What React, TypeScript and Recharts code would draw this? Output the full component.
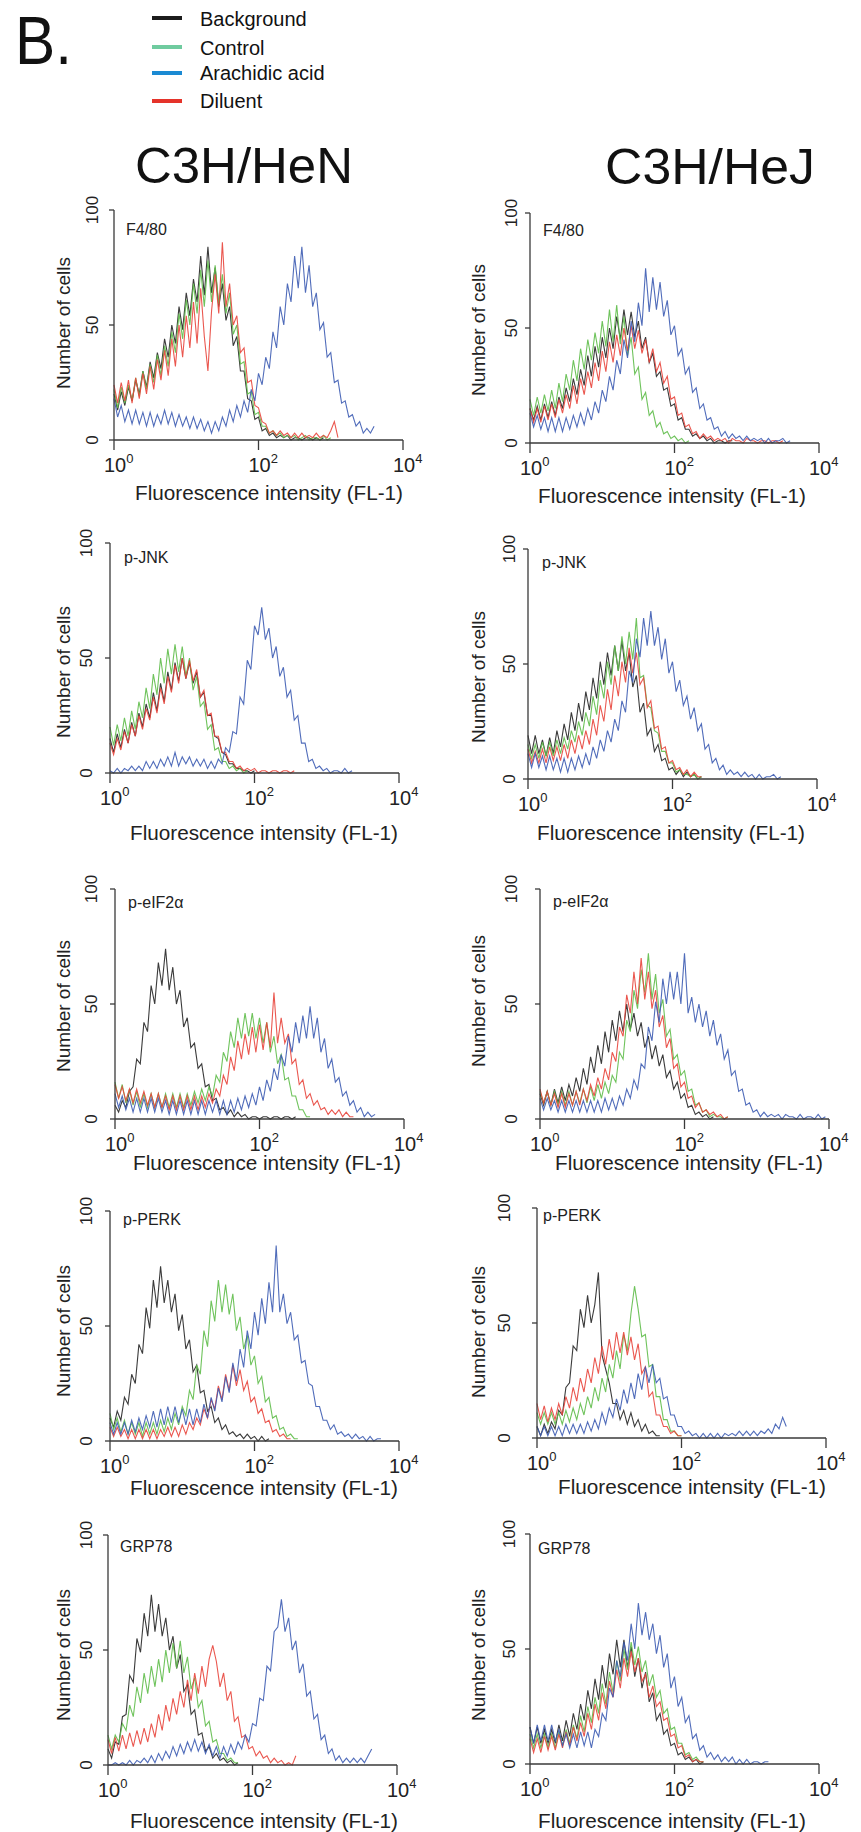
import React from "react";
import { LineChart, Line, XAxis, YAxis } from "recharts";

const FONT = "'Liberation Sans', Arial, Helvetica, sans-serif";
const AXIS = "#3a3a3a";

// channel grid on the log10(FL-1) axis
const CHANNEL_STEP = 0.05;

const strains = ["C3H/HeN", "C3H/HeJ"];
const markers = ["F4/80", "p-JNK", "p-eIF2\u03b1", "p-PERK", "GRP78"];
const xTicks = [0, 2, 4];
const yTicks = [0, 50, 100];

const legendItems = [
  { key: "bg", name: "Background", legend: "#1c1c1c", line: "#262626" },
  { key: "ctl", name: "Control", legend: "#6fcb9f", line: "#5fbd4a" },
  { key: "aa", name: "Arachidic acid", legend: "#1b8ad3", line: "#3d5cb2" },
  { key: "dil", name: "Diluent", legend: "#e5332a", line: "#e8453c" },
];

// ---- C3H/HeN ----
const henF480Background = [20,13,21,15,23,17,26,20,30,23,34,27,38,31,44,36,50,42,58,48,64,54,70,60,80,63,84,64,75,58,68,52,58,41,45,30,30,18,17,9,10,4,5,2,3,1,2,1,2,0,1,1,0,1,1,0,1,0,1];
const henF480Control = [22,14,23,16,24,17,27,19,30,22,33,25,37,28,41,32,47,38,55,44,61,50,68,55,74,58,78,60,76,59,72,55,64,46,50,33,34,20,21,11,12,6,6,3,4,2,3,1,2,1,2,0,1,2,0,1,1,0,2,0,1];
const henF480Arachidic = [18,10,15,8,13,7,13,7,12,6,12,6,11,7,13,7,12,6,11,6,10,5,10,5,9,4,8,3,8,4,10,6,13,8,15,10,17,12,22,17,29,24,36,31,47,40,58,50,68,60,80,66,84,64,76,58,64,48,51,36,38,25,26,16,17,10,11,6,8,3,5,3,6];
const henF480Diluent = [24,16,25,17,26,16,27,18,29,20,32,22,35,26,39,28,44,32,50,36,54,40,60,42,66,45,30,56,72,55,86,58,68,50,54,38,40,25,26,15,14,8,7,3,4,2,4,2,3,1,3,1,3,1,2,1,3,1,2,1,4,8,1];

const henJnkBackground = [15,9,17,11,19,13,22,16,26,20,30,24,35,27,39,31,44,36,48,40,50,41,48,39,44,33,35,25,25,16,15,9,8,4,4,2,2,1,1,0,1];
const henJnkControl = [20,12,21,14,24,16,27,19,31,24,37,28,43,34,50,39,54,43,56,44,55,42,50,36,42,29,31,19,21,10,11,5,5,2,3,1,2,0,1];
const henJnkArachidic = [1,0,2,0,2,1,3,1,3,1,5,2,5,2,6,3,7,3,9,3,7,4,7,3,6,3,6,2,5,2,6,4,11,9,18,17,33,30,49,45,64,60,72,58,63,50,55,42,46,33,36,23,25,13,13,5,6,2,3,1,2,0,1,1,0,2,0,1];
const henJnkDiluent = [13,8,15,10,18,13,21,16,25,19,28,23,33,26,37,30,42,35,47,39,50,41,49,40,45,33,36,25,26,16,16,9,9,5,5,2,3,1,2,1,2,0,1,1,0,1,1,0,1,1,0,1];

const henEif2Background = [6,3,8,5,12,14,26,24,42,38,58,50,68,58,74,56,66,50,56,40,44,31,33,22,24,14,15,8,9,4,5,2,4,1,3,1,2,0,1,1,0,1,1,0,1,1,0,1,1,0,1];
const henEif2Control = [16,9,15,7,13,6,12,5,11,5,11,5,11,5,11,5,11,5,11,5,11,6,12,7,13,8,14,10,19,16,29,25,38,31,44,35,46,36,46,35,44,33,42,29,36,24,28,17,18,10,10,4,4,1,1];
const henEif2Arachidic = [11,5,10,4,9,3,9,3,9,3,9,3,9,3,8,2,8,2,8,2,8,2,8,2,8,2,8,3,8,2,8,2,8,3,9,4,10,5,11,6,14,8,17,12,22,17,28,23,36,29,42,33,45,35,49,35,44,29,35,22,26,16,18,10,12,6,8,3,5,1,3,1,2];
const henEif2Diluent = [15,9,14,8,13,7,13,7,12,6,11,5,11,5,10,4,10,4,10,4,10,4,10,4,10,5,11,7,13,10,19,15,27,21,34,26,37,28,40,29,41,30,42,31,55,33,44,33,37,24,26,15,17,9,11,6,8,4,5,2,4,2,4,1,3,1,1];

const henPerkBackground = [10,6,13,9,19,16,29,25,42,38,58,49,70,58,76,60,70,56,64,48,55,40,44,30,33,21,22,13,15,8,10,5,7,3,4,2,3,1,3,1,2,0,2,0,1];
const henPerkControl = [12,5,10,4,9,3,8,3,8,2,8,3,8,3,9,4,10,5,12,7,15,11,22,18,33,29,48,41,61,52,70,56,68,55,64,48,54,40,46,33,37,25,28,17,19,10,11,5,6,2,3,1,1];
const henPerkArachidic = [8,3,8,3,8,3,9,4,10,5,11,6,13,6,14,7,15,8,15,8,14,7,14,7,14,8,16,10,19,13,23,17,28,21,34,26,40,32,48,40,56,46,62,51,69,56,85,56,64,51,56,44,46,34,35,25,24,15,15,9,9,5,7,3,4,2,3,1,3,1,2,0,2,0,1,1];
const henPerkDiluent = [6,2,6,2,5,1,5,1,5,1,5,1,5,1,5,2,6,2,6,2,7,3,8,5,10,7,14,10,18,14,24,18,29,22,33,24,31,22,26,17,19,12,14,8,9,4,5,2,3,1,1];

const henGrp78Background = [7,3,10,9,21,22,39,36,55,49,66,56,74,58,70,56,64,50,56,42,48,32,35,22,24,13,14,6,8,3,5,2,3,1,2,0,1];
const henGrp78Control = [13,7,13,10,18,15,26,21,34,27,40,31,43,34,46,36,50,40,53,42,54,40,47,33,38,25,28,17,19,10,11,5,5,2,3,1,1];
const henGrp78Arachidic = [0,0,1,0,1,0,2,0,2,1,3,1,4,1,5,2,6,3,8,4,9,5,10,6,11,6,10,5,9,4,8,3,8,4,9,5,10,7,13,10,18,17,29,28,43,41,58,60,72,58,64,50,54,40,44,30,32,20,22,11,13,5,7,2,4,1,3,1,3,1,3,1,4,7];
const henGrp78Diluent = [11,5,12,6,13,7,14,8,15,9,16,10,18,12,22,15,26,19,29,22,32,25,37,28,40,31,43,34,46,52,45,34,40,28,32,19,21,12,13,7,8,4,6,3,4,1,3,1,2,0,1,0,4];

// ---- C3H/HeJ ----
const hejF480Background = [15,10,16,10,17,11,18,12,20,15,24,18,28,21,32,25,38,29,42,33,46,37,50,41,55,45,58,47,57,46,53,41,46,35,39,29,31,23,24,16,17,10,11,6,6,3,4,2,3,1,2,0,1,1,0,1,1];
const hejF480Control = [19,12,20,13,21,14,23,15,26,18,30,23,36,27,41,32,45,36,48,39,53,42,58,44,60,43,55,38,46,30,33,19,22,12,14,7,9,4,5,2,3,1,2,0,1];
const hejF480Arachidic = [13,7,12,6,11,5,11,5,11,5,11,6,12,7,13,8,15,10,18,13,23,18,29,23,36,30,45,37,53,44,61,51,76,57,72,58,70,55,62,47,51,38,41,30,33,22,24,15,17,10,11,6,7,3,5,2,4,2,3,1,3,1,2,1,2,0,2,0,1,1,2,0,1];
const hejF480Diluent = [15,9,15,9,16,10,17,11,19,13,21,15,25,17,28,21,31,24,35,27,40,31,44,35,47,38,50,40,51,41,49,39,45,35,41,31,35,26,29,19,20,12,13,7,8,4,5,2,4,2,3,1,2,1,2,0,2,1,1,0,2,1,1,0,1,1,0,1,1,0,1];

const hejJnkBackground = [19,11,19,11,17,10,18,11,21,14,24,17,29,21,33,25,38,30,44,35,51,41,55,45,58,47,60,47,55,40,45,29,33,19,22,12,15,8,9,4,5,2,4,1,3,1,2,0,1];
const hejJnkControl = [15,9,15,9,16,10,16,10,17,11,18,13,21,16,25,19,29,23,36,28,43,35,51,41,58,47,62,50,64,52,70,44,45,32,31,21,20,12,12,7,7,3,4,2,2,1,2,0,1];
const hejJnkArachidic = [11,5,11,5,10,4,10,4,9,3,9,3,9,4,10,5,11,6,14,9,17,12,21,16,26,21,34,29,47,42,61,53,70,58,73,58,66,52,61,46,51,38,43,32,36,26,31,21,24,13,15,7,9,4,6,2,4,2,3,1,3,1,2,0,2,0,1,1,2,0,1];
const hejJnkDiluent = [13,7,12,7,13,7,14,8,14,8,15,9,17,11,19,13,21,15,26,19,32,25,39,30,45,36,51,42,57,46,55,41,44,31,34,22,23,13,14,7,8,4,5,2,4,1,3,1,1];

const hejEif2Background = [11,6,12,6,13,7,14,8,15,10,18,12,22,15,27,20,32,24,38,29,43,34,47,38,50,39,46,36,42,31,36,26,32,23,28,18,21,13,16,9,11,5,6,2,3,1,2,0,1];
const hejEif2Control = [12,7,12,6,12,6,12,6,12,6,12,7,13,7,14,8,15,9,16,11,19,16,29,26,43,38,56,48,65,55,72,52,63,46,52,36,39,26,28,19,21,12,13,6,7,3,4,1,2,1,1,0,1];
const hejEif2Arachidic = [9,4,9,4,8,3,8,3,8,3,8,3,8,3,8,3,8,3,9,4,9,4,10,6,13,9,17,13,24,22,40,34,51,42,61,50,64,52,64,50,72,46,53,42,50,40,47,36,43,32,37,26,30,19,21,12,13,6,7,3,4,1,3,1,2,1,2,0,2,1,1,0,2,0,1,1,0,2,0,1];
const hejEif2Diluent = [13,7,12,6,11,5,11,5,11,6,12,6,13,8,15,10,18,13,22,17,29,25,40,36,54,46,64,50,70,52,64,48,56,40,45,31,35,22,24,14,16,9,10,5,7,3,4,2,3,1,2,0,1];

const hejPerkBackground = [5,1,6,2,7,4,12,10,22,24,40,38,56,48,62,50,58,72,36,30,24,15,15,8,12,6,11,5,8,3,6,2,3,1,1];
const hejPerkControl = [11,6,11,6,11,6,11,6,12,7,13,8,15,10,18,13,22,16,26,20,32,26,38,30,45,38,54,66,56,44,45,31,32,18,18,8,8,3,3,1,1];
const hejPerkArachidic = [5,1,5,1,5,1,5,1,6,2,6,2,6,2,7,3,8,4,11,6,13,9,17,12,21,15,24,17,28,21,31,24,32,24,26,17,18,10,10,5,5,2,3,1,2,0,2,0,2,0,2,0,2,1,2,1,3,1,3,1,3,1,3,2,4,2,6,4,9,5];
const hejPerkDiluent = [15,8,14,7,13,8,15,10,18,13,22,16,26,20,30,24,35,28,40,32,43,34,46,37,46,36,44,34,41,28,31,18,20,10,10,5,5,2,3,1,1];

const hejGrp78Background = [16,9,16,9,15,9,15,9,17,10,19,12,22,15,26,19,32,24,37,28,43,33,48,39,54,42,54,42,51,38,46,33,40,27,31,19,22,13,15,8,9,4,5,2,3,1,2,0,1];
const hejGrp78Control = [13,7,13,7,13,7,13,7,14,8,15,9,17,11,21,14,25,18,29,22,35,26,40,31,45,36,50,41,53,43,51,40,45,34,39,29,32,22,24,15,16,9,9,4,5,2,3,1,1];
const hejGrp78Arachidic = [16,9,17,10,17,10,17,10,15,8,13,7,13,7,14,8,14,7,15,12,22,19,33,29,45,38,53,45,61,50,70,56,66,54,61,48,56,42,48,33,38,25,29,18,21,11,13,6,8,3,5,2,4,1,3,1,3,0,2,0,2,0,1,1,0,1,1];
const hejGrp78Diluent = [11,5,11,5,12,6,12,6,13,7,14,8,16,10,18,12,22,15,26,19,31,24,36,29,41,33,46,38,49,40,46,36,39,29,34,25,27,19,20,12,13,7,8,3,4,1,2,1,1];

// plot geometry (px)
const PL = 110;
const PT = 20;
const PW = 289;
const PH = 230;
const PR = 30;
const XH = 75;
const CW = PL + PW + PR;
const CH = PT + PH + XH;

type Layout = {
  axisX: number; zeroY: number; yTickDx: number; cellsX: number; cellsDy: number;
  labelDx: number; labelDy: number; titleDx: number; titleDy: number;
};

const panels: { strain: number; marker: number; bg: number[]; ctl: number[]; aa: number[]; dil: number[]; lay: Layout }[] = [
  { strain: 0, marker: 0, bg: henF480Background, ctl: henF480Control, aa: henF480Arachidic, dil: henF480Diluent,
    lay: { axisX: 114, zeroY: 440, yTickDx: -16, cellsX: 70, cellsDy: -2, labelDx: 12, labelDy: 25, titleDx: 21, titleDy: 60 } },
  { strain: 1, marker: 0, bg: hejF480Background, ctl: hejF480Control, aa: hejF480Arachidic, dil: hejF480Diluent,
    lay: { axisX: 530, zeroY: 443, yTickDx: -13, cellsX: 485, cellsDy: 2, labelDx: 13, labelDy: 23, titleDx: 8, titleDy: 60 } },
  { strain: 0, marker: 1, bg: henJnkBackground, ctl: henJnkControl, aa: henJnkArachidic, dil: henJnkDiluent,
    lay: { axisX: 110, zeroY: 773, yTickDx: -18, cellsX: 70, cellsDy: 14, labelDx: 14, labelDy: 20, titleDx: 20, titleDy: 67 } },
  { strain: 1, marker: 1, bg: hejJnkBackground, ctl: hejJnkControl, aa: hejJnkArachidic, dil: hejJnkDiluent,
    lay: { axisX: 528, zeroY: 779, yTickDx: -13, cellsX: 485, cellsDy: 13, labelDx: 14, labelDy: 19, titleDx: 9, titleDy: 61 } },
  { strain: 0, marker: 2, bg: henEif2Background, ctl: henEif2Control, aa: henEif2Arachidic, dil: henEif2Diluent,
    lay: { axisX: 115, zeroY: 1119, yTickDx: -18, cellsX: 70, cellsDy: 2, labelDx: 13, labelDy: 19, titleDx: 18, titleDy: 51 } },
  { strain: 1, marker: 2, bg: hejEif2Background, ctl: hejEif2Control, aa: hejEif2Arachidic, dil: hejEif2Diluent,
    lay: { axisX: 540, zeroY: 1119, yTickDx: -23, cellsX: 485, cellsDy: -3, labelDx: 13, labelDy: 18, titleDx: 15, titleDy: 51 } },
  { strain: 0, marker: 3, bg: henPerkBackground, ctl: henPerkControl, aa: henPerkArachidic, dil: henPerkDiluent,
    lay: { axisX: 110, zeroY: 1441, yTickDx: -18, cellsX: 70, cellsDy: 5, labelDx: 13, labelDy: 14, titleDx: 20, titleDy: 54 } },
  { strain: 1, marker: 3, bg: hejPerkBackground, ctl: hejPerkControl, aa: hejPerkArachidic, dil: hejPerkDiluent,
    lay: { axisX: 537, zeroY: 1438, yTickDx: -27, cellsX: 485, cellsDy: 9, labelDx: 6, labelDy: 13, titleDx: 21, titleDy: 56 } },
  { strain: 0, marker: 4, bg: henGrp78Background, ctl: henGrp78Control, aa: henGrp78Arachidic, dil: henGrp78Diluent,
    lay: { axisX: 108, zeroY: 1765, yTickDx: -16, cellsX: 70, cellsDy: 5, labelDx: 12, labelDy: 17, titleDx: 22, titleDy: 63 } },
  { strain: 1, marker: 4, bg: hejGrp78Background, ctl: hejGrp78Control, aa: hejGrp78Arachidic, dil: hejGrp78Diluent,
    lay: { axisX: 530, zeroY: 1764, yTickDx: -15, cellsX: 485, cellsDy: 6, labelDx: 8, labelDy: 20, titleDx: 8, titleDy: 64 } },
];

function buildRows(p: { bg: number[]; ctl: number[]; aa: number[]; dil: number[] }) {
  const n = Math.max(p.bg.length, p.ctl.length, p.aa.length, p.dil.length);
  const rows = [];
  for (let i = 0; i < n; i++) {
    rows.push({ x: Math.round(i * CHANNEL_STEP * 100) / 100, bg: p.bg[i], ctl: p.ctl[i], aa: p.aa[i], dil: p.dil[i] });
  }
  return rows;
}

const XTick = (props: any) => {
  const { x, payload } = props;
  return (
    <text x={x - 10} y={PT + PH + 32} fontSize={20} fill="#222" fontFamily={FONT}>
      10
      <tspan fontSize={13} dy={-9}>{payload.value}</tspan>
    </text>
  );
};

const YTick = (props: any) => {
  const { y, payload, dx } = props;
  return (
    <text transform={`translate(${PL + dx},${y}) rotate(-90)`} textAnchor="middle" fontSize={17} fill="#222" fontFamily={FONT}>
      {payload.value}
    </text>
  );
};

const drawOrder = ["bg", "ctl", "dil", "aa"];

const Panel = ({ p }: { p: (typeof panels)[number] }) => {
  const rows = buildRows(p);
  return (
    <div style={{ position: "absolute", left: p.lay.axisX - PL, top: p.lay.zeroY - PH - PT }}>
      <LineChart width={CW} height={CH} data={rows} margin={{ top: PT, right: PR, bottom: 0, left: 0 }}>
        <XAxis type="number" dataKey="x" domain={[0, 4]} ticks={xTicks} interval={0} height={XH} tickSize={10}
          axisLine={{ stroke: AXIS, strokeWidth: 1.3 }} tickLine={{ stroke: AXIS, strokeWidth: 1.3 }}
          tick={(t: any) => <XTick {...t} />} />
        <YAxis type="number" domain={[0, 100]} ticks={yTicks} interval={0} width={PL} tickSize={5}
          axisLine={{ stroke: AXIS, strokeWidth: 1.3 }} tickLine={{ stroke: AXIS, strokeWidth: 1.3 }}
          tick={(t: any) => <YTick {...t} dx={p.lay.yTickDx} />} />
        {drawOrder.map((k) => {
          const item = legendItems.find((l) => l.key === k)!;
          return (
            <Line key={k} type="linear" dataKey={k} name={item.name} stroke={item.line} strokeWidth={1.1}
              strokeOpacity={0.9} dot={false} activeDot={false} isAnimationActive={false} />
          );
        })}
      </LineChart>
    </div>
  );
};

const legendLineY = [18, 47, 73, 101];
const legendTextY = [26, 55, 80, 108];

export default function App() {
  return (
    <div style={{ position: "absolute", left: 0, top: 0, width: 861, height: 1832, overflow: "hidden", background: "#fff", fontFamily: FONT }}>
      {panels.map((p, i) => (
        <Panel key={i} p={p} />
      ))}
      <svg width={861} height={1832} style={{ position: "absolute", left: 0, top: 0, pointerEvents: "none" }} fontFamily={FONT}>
        <text x={15} y={64} fontSize={68} fill="#111" textLength={57} lengthAdjust="spacingAndGlyphs">B.</text>
        {legendItems.map((l, i) => (
          <g key={l.key}>
            <line x1={152} x2={182} y1={legendLineY[i]} y2={legendLineY[i]} stroke={l.legend} strokeWidth={4} />
            <text x={200} y={legendTextY[i]} fontSize={20} fill="#111">{l.name}</text>
          </g>
        ))}
        <text x={135} y={183} fontSize={50} fill="#111" textLength={218} lengthAdjust="spacingAndGlyphs">{strains[0]}</text>
        <text x={605} y={184} fontSize={50} fill="#111" textLength={210} lengthAdjust="spacingAndGlyphs">{strains[1]}</text>
        {panels.map((p, i) => {
          const top = p.lay.zeroY - PH;
          const cy = p.lay.zeroY - PH / 2 + p.lay.cellsDy;
          return (
            <g key={i}>
              <text x={p.lay.axisX + p.lay.labelDx} y={top + p.lay.labelDy} fontSize={16} fill="#222">{markers[p.marker]}</text>
              <text transform={`translate(${p.lay.cellsX},${cy}) rotate(-90)`} textAnchor="middle" fontSize={19} fill="#222">Number of cells</text>
              <text x={p.lay.axisX + p.lay.titleDx} y={p.lay.zeroY + p.lay.titleDy} fontSize={20} fill="#222" textLength={268} lengthAdjust="spacingAndGlyphs">
                Fluorescence intensity (FL-1)
              </text>
            </g>
          );
        })}
      </svg>
    </div>
  );
}
